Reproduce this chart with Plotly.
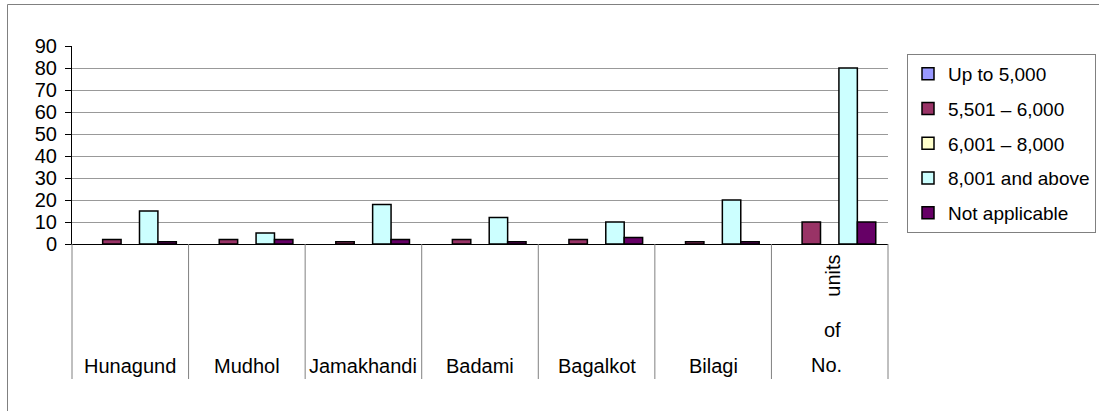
import plotly.graph_objects as go

# Districts (last column is the total "No. of units")
categories = ["Hunagund", "Mudhol", "Jamakhandi", "Badami", "Bagalkot", "Bilagi", "No. of units"]

# Counts per income class
up_to_5000 = [0, 0, 0, 0, 0, 0, 0]
from_5501_to_6000 = [2, 2, 1, 2, 2, 1, 10]
from_6001_to_8000 = [0, 0, 0, 0, 0, 0, 0]
above_8001 = [15, 5, 18, 12, 10, 20, 80]
not_applicable = [1, 2, 2, 1, 3, 1, 10]

series_names = ["Up to 5,000", "5,501 \u2013 6,000", "6,001 \u2013 8,000", "8,001 and above", "Not applicable"]
series_values = [up_to_5000, from_5501_to_6000, from_6001_to_8000, above_8001, not_applicable]
series_colors = ["#9999FF", "#993366", "#FFFFCC", "#CCFFFF", "#660066"]

y_ticks = [0, 10, 20, 30, 40, 50, 60, 70, 80, 90]

FONT = "Arial, 'Liberation Sans', sans-serif"
FS = 20
LEG_FS = 19

W, H = 1099, 411
L, R, T, B = 72, 211, 46, 167
plot_w = W - L - R
plot_h = H - T - B


def px_x(px):
    return (px - L) / plot_w


def px_y(py):
    return (H - B - py) / plot_h


fig = go.Figure()
for name, vals, col in zip(series_names, series_values, series_colors):
    # zero counts are left empty so no outline sits on the axis
    shown = [v if v > 0 else None for v in vals]
    fig.add_trace(go.Bar(
        x=categories, y=shown, name=name, legendgroup=name,
        marker=dict(color=col, line=dict(color="black", width=1.5)),
    ))

shapes = []
# outer chart border
shapes.append(dict(type="rect", xref="paper", yref="paper",
                   x0=px_x(7.5), x1=px_x(1110), y0=px_y(4.5), y1=px_y(430),
                   line=dict(color="#808080", width=1), layer="below"))
# category separators under the axis
for i in range(len(categories) + 1):
    xd = i / len(categories)
    shapes.append(dict(type="line", xref="x domain", yref="paper",
                       x0=xd, x1=xd, y0=0, y1=px_y(379),
                       line=dict(color="#808080", width=1)))

annotations = []
for c in categories[:-1]:
    annotations.append(dict(x=c, y=px_y(366), xref="x", yref="paper", text=c,
                            showarrow=False, yanchor="middle",
                            font=dict(family=FONT, size=FS, color="black")))
last = categories[-1]
for txt, ypos, ang, dx in [("No.", 365, 0, -3), ("of", 330, 0, 3), ("units", 276, -90, 3)]:
    annotations.append(dict(x=last, y=px_y(ypos), xref="x", yref="paper", text=txt,
                            showarrow=False, yanchor="middle", textangle=ang, xshift=dx,
                            font=dict(family=FONT, size=FS, color="black")))

fig.update_layout(
    width=W, height=H,
    margin=dict(l=L, r=R, t=T, b=B, pad=0, autoexpand=False),
    paper_bgcolor="white", plot_bgcolor="white",
    barmode="group", bargap=0.21, bargroupgap=0,
    font=dict(family=FONT, size=FS, color="black"),
    showlegend=True,
    legend=dict(x=px_x(907), y=px_y(54), xanchor="left", yanchor="top",
                bordercolor="#808080", borderwidth=1, bgcolor="white",
                traceorder="grouped", tracegroupgap=7, itemwidth=30,
                font=dict(family=FONT, size=LEG_FS, color="black")),
    xaxis=dict(type="category", range=[-0.5, 6.5], showticklabels=False,
               showline=True, linecolor="black", linewidth=1,
               showgrid=False, zeroline=False, ticks=""),
    yaxis=dict(range=[0, 90], tickvals=y_ticks, ticks="outside", ticklen=6,
               tickcolor="black", showline=True, linecolor="black", linewidth=1,
               showgrid=True, gridcolor="#999999", gridwidth=1, zeroline=False,
               ticklabelstandoff=4,
               tickfont=dict(family=FONT, size=FS, color="black")),
    shapes=shapes,
    annotations=annotations,
)

fig.write_html("out.html")
